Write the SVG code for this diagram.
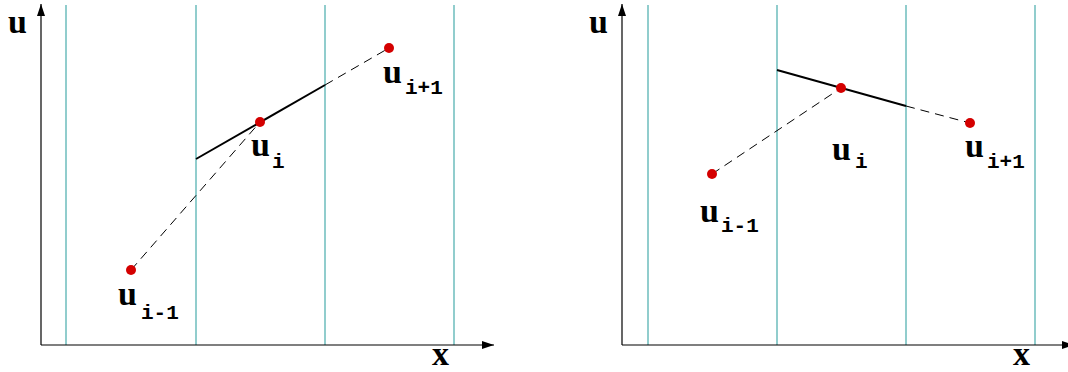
<svg xmlns="http://www.w3.org/2000/svg" width="1068" height="372" viewBox="0 0 1068 372">
<style>
.grid{stroke:#6cbdbd;stroke-width:1.5;fill:none}
.axis{stroke:#000;stroke-width:1.2;fill:none}
.sol{stroke:#000;stroke-width:2;fill:none}
.dash{stroke:#000;stroke-width:1;fill:none;stroke-dasharray:9 6}
.pt{fill:#d40000}
.big{font-family:"Liberation Serif",serif;font-weight:bold;font-size:34px;fill:#000}
.sub{font-family:"Liberation Mono",monospace;font-weight:bold;font-size:21px;fill:#000}
</style>
<defs>
<marker id="ah" viewBox="0 0 12 8" refX="12" refY="4" markerWidth="12" markerHeight="8" markerUnits="userSpaceOnUse" orient="auto">
<path d="M0,0 L12,4 L0,8 Z" fill="#000"/>
</marker>
</defs>
<g id="grid-left">
<line class="grid" x1="66" y1="5" x2="66" y2="345"/>
<line class="grid" x1="196" y1="5" x2="196" y2="345"/>
<line class="grid" x1="325" y1="5" x2="325" y2="345"/>
<line class="grid" x1="454" y1="5" x2="454" y2="345"/>
</g>
<g id="grid-right">
<line class="grid" x1="648" y1="5" x2="648" y2="345"/>
<line class="grid" x1="777" y1="5" x2="777" y2="345"/>
<line class="grid" x1="906" y1="5" x2="906" y2="345"/>
<line class="grid" x1="1035" y1="5" x2="1035" y2="345"/>
</g>
<g id="axes">
<line class="axis" x1="41" y1="345" x2="41" y2="4" marker-end="url(#ah)"/>
<line class="axis" x1="41" y1="345" x2="494" y2="345" marker-end="url(#ah)"/>
<line class="axis" x1="622" y1="345" x2="622" y2="4" marker-end="url(#ah)"/>
<line class="axis" x1="622" y1="345" x2="1074" y2="345" marker-end="url(#ah)"/>
<text class="big" x="8" y="33">u</text>
<text class="big" x="432" y="365">x</text>
<text class="big" x="589" y="33">u</text>
<text class="big" x="1013" y="365">x</text>
</g>
<g id="connectors">
<line class="dash" x1="131" y1="270" x2="260" y2="122"/>
<line class="dash" x1="325" y1="85" x2="389" y2="48"/>
<line class="sol" x1="196" y1="159" x2="325" y2="85"/>
<line class="dash" x1="712" y1="174" x2="841" y2="88"/>
<line class="dash" x1="906" y1="106" x2="970" y2="123"/>
<line class="sol" x1="777" y1="70" x2="906" y2="106"/>
</g>
<g id="left-u-im1">
<circle class="pt" cx="131" cy="270" r="5"/>
<text class="big" x="118" y="305">u</text><text class="sub" x="141" y="319">i-1</text>
</g>
<g id="left-u-i">
<circle class="pt" cx="260" cy="122" r="5"/>
<text class="big" x="251" y="156">u</text><text class="sub" x="272" y="168">i</text>
</g>
<g id="left-u-ip1">
<circle class="pt" cx="389" cy="48" r="5"/>
<text class="big" x="383" y="83">u</text><text class="sub" x="405" y="94">i+1</text>
</g>
<g id="right-u-im1">
<circle class="pt" cx="712" cy="174" r="5"/>
<text class="big" x="700" y="222">u</text><text class="sub" x="721" y="232">i-1</text>
</g>
<g id="right-u-i">
<circle class="pt" cx="841" cy="88" r="5"/>
<text class="big" x="832" y="160">u</text><text class="sub" x="855" y="168">i</text>
</g>
<g id="right-u-ip1">
<circle class="pt" cx="970" cy="123" r="5"/>
<text class="big" x="965" y="157">u</text><text class="sub" x="987" y="168">i+1</text>
</g>
</svg>
